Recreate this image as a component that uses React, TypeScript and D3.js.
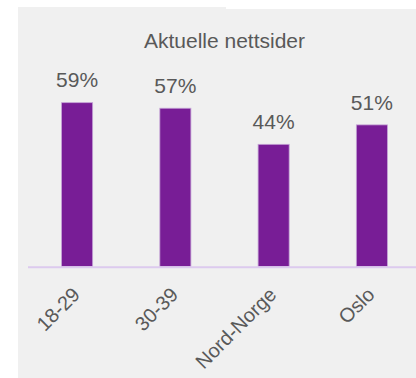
import React from "react";
import * as d3 from "d3";

const categories = ["18-29", "30-39", "Nord-Norge", "Oslo"];
const values = [0.59, 0.57, 0.44, 0.51];
const title = "Aktuelle nettsider";

const W = 416;
const H = 378;

export default function App() {
  const x = d3
    .scaleBand<string>()
    .domain(categories)
    .range([28, 421])
    .paddingInner(0.684)
    .paddingOuter(0.342);
  const y = d3.scaleLinear().domain([0, 0.6]).range([266.5, 99.9]);
  const fmt = d3.format(".0%");
  const font = "'Liberation Sans', Arial, sans-serif";

  return (
    <svg
      width={W}
      height={H}
      style={{ position: "absolute", left: 0, top: 0 }}
      fontFamily={font}
    >
      <rect x={0} y={0} width={W} height={H} fill="#ffffff" />
      <rect x={18} y={7} width={208} height={H - 7} fill="#f0f0f0" />
      <rect x={226} y={9} width={W - 226} height={H - 9} fill="#f0f0f0" />
      <text x={224.5} y={48.3} textAnchor="middle" fontSize={21} fill="#595959">
        {title}
      </text>
      {categories.map((c, i) => {
        const bx = x(c) as number;
        const bw = x.bandwidth();
        const cx = bx + bw / 2;
        return (
          <g key={c}>
            <rect
              x={bx}
              y={y(values[i])}
              width={bw}
              height={y(0) - y(values[i])}
              fill="#781d96"
              stroke="#c4a2d6"
              strokeWidth={0.8}
            />
            <text
              x={cx}
              y={y(values[i]) - 15.2}
              textAnchor="middle"
              fontSize={21}
              fill="#595959"
            >
              {fmt(values[i])}
            </text>
            <text
              transform={`translate(${cx + 4},296) rotate(-45)`}
              textAnchor="end"
              fontSize={20}
              fill="#595959"
            >
              {c}
            </text>
          </g>
        );
      })}
      <line x1={28} x2={W} y1={267.2} y2={267.2} stroke="#dccaee" strokeWidth={2} />
    </svg>
  );
}
